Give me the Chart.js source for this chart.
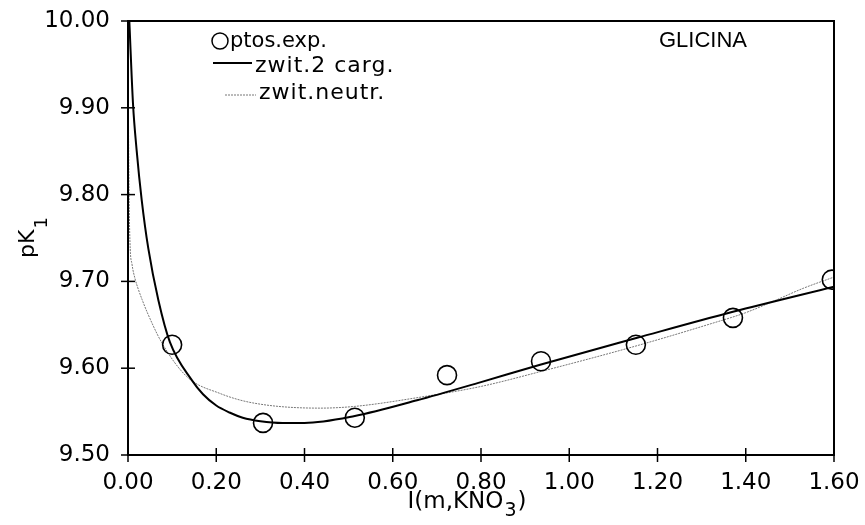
<!DOCTYPE html>
<html>
<head>
<meta charset="utf-8">
<script src="https://cdn.jsdelivr.net/npm/chart.js@4/dist/chart.umd.min.js"></script>
<style>
html,body{margin:0;padding:0;background:#fff;}
#wrap{width:865px;height:525px;}
</style>
</head>
<body>
<div id="wrap"><canvas id="c" width="865" height="525"></canvas></div>
<script>
// Experimental points
const expI  = [0.10, 0.306, 0.514, 0.723, 0.936, 1.151, 1.371, 1.595];
const expPK = [9.627, 9.537, 9.543, 9.592, 9.608, 9.627, 9.658, 9.702];

// zwit.2 carg. (solid curve)
const carg2I  = [0.003, 0.0113, 0.0196, 0.031, 0.046, 0.069, 0.095, 0.145, 0.17, 0.20, 0.23, 0.26, 0.30, 0.35, 0.40, 0.514, 0.655, 0.80, 0.934, 1.154, 1.371, 1.60];
const carg2PK = [10.00, 9.905, 9.851, 9.794, 9.738, 9.678, 9.630, 9.586, 9.570, 9.557, 9.549, 9.543, 9.539, 9.537, 9.537, 9.545, 9.563, 9.584, 9.604, 9.635, 9.665, 9.694];

// zwit.neutr. (thin dotted curve)
const neutrI  = [0.0005, 0.001, 0.002, 0.0045, 0.009, 0.016, 0.024, 0.032, 0.043, 0.077, 0.134, 0.208, 0.283, 0.435, 0.514, 0.655, 0.80, 0.934, 1.154, 1.326, 1.40, 1.462, 1.53, 1.60];
const neutrPK = [10.00, 9.90, 9.82, 9.745, 9.720, 9.703, 9.690, 9.679, 9.665, 9.629, 9.590, 9.571, 9.560, 9.554, 9.556, 9.566, 9.579, 9.596, 9.626, 9.652, 9.664, 9.677, 9.692, 9.705];

const xTickVals = [0.00, 0.20, 0.40, 0.60, 0.80, 1.00, 1.20, 1.40, 1.60];
const yTickVals = [9.50, 9.60, 9.70, 9.80, 9.90, 10.00];

const toPts = (xs, ys) => xs.map((x, i) => ({x: x, y: ys[i]}));

const FONT = "'DejaVu Sans', sans-serif";

const decor = {
  id: 'decor',
  afterDraw(chart) {
    const ctx = chart.ctx;
    const a = chart.chartArea;
    const xs = chart.scales.x, ys = chart.scales.y;
    ctx.save();
    ctx.strokeStyle = '#000';
    ctx.lineWidth = 2;
    ctx.strokeRect(a.left, a.top, a.right - a.left, a.bottom - a.top);
    ctx.lineWidth = 1.5;
    xTickVals.forEach(v => {
      const p = xs.getPixelForValue(v);
      ctx.beginPath(); ctx.moveTo(p, a.bottom - 7); ctx.lineTo(p, a.bottom + 7); ctx.stroke();
    });
    yTickVals.forEach(v => {
      const p = ys.getPixelForValue(v);
      ctx.beginPath(); ctx.moveTo(a.left - 7, p); ctx.lineTo(a.left + 7, p); ctx.stroke();
    });
    ctx.fillStyle = '#000';
    // x title with subscript
    ctx.textBaseline = 'alphabetic';
    ctx.textAlign = 'left';
    ctx.font = '23px ' + FONT;
    const t1 = 'I(m,KNO', t2 = '3', t3 = ')';
    const w1 = ctx.measureText(t1).width;
    ctx.font = '19px ' + FONT;
    const w2 = ctx.measureText(t2).width;
    ctx.font = '23px ' + FONT;
    const w3 = ctx.measureText(t3).width;
    let x0 = 466 - (w1 + w2 + w3) / 2;
    ctx.fillText(t1, x0, 508);
    ctx.font = '19px ' + FONT;
    ctx.fillText(t2, x0 + w1 + 1, 516);
    ctx.font = '23px ' + FONT;
    ctx.fillText(t3, x0 + w1 + w2 + 2, 508);
    // y title rotated with subscript
    ctx.save();
    ctx.translate(34, 238);
    ctx.rotate(-Math.PI / 2);
    ctx.font = '22px ' + FONT;
    const pw = ctx.measureText('pK').width;
    ctx.font = '18px ' + FONT;
    const sw = ctx.measureText('1').width;
    ctx.font = '22px ' + FONT;
    ctx.fillText('pK', -(pw + sw) / 2, 0);
    ctx.font = '18px ' + FONT;
    ctx.fillText('1', -(pw + sw) / 2 + pw + 1, 13);
    ctx.restore();
    // legend
    ctx.font = '21px ' + FONT;
    ctx.textBaseline = 'middle';
    ctx.lineWidth = 1.5;
    ctx.beginPath(); ctx.arc(220, 41, 8, 0, Math.PI * 2); ctx.stroke();
    ctx.fillText('ptos.exp.', 230, 42);
    ctx.lineWidth = 2;
    ctx.beginPath(); ctx.moveTo(213, 63); ctx.lineTo(252, 63); ctx.stroke();
    ctx.font = '22px ' + FONT;
    try { ctx.letterSpacing = '1px'; } catch (e) {}
    ctx.fillText('zwit.2 carg.', 255, 66);
    ctx.lineWidth = 1;
    ctx.strokeStyle = '#777';
    ctx.setLineDash([2, 1]);
    ctx.beginPath(); ctx.moveTo(225, 95); ctx.lineTo(256, 95); ctx.stroke();
    ctx.setLineDash([]);
    ctx.fillText('zwit.neutr.', 259, 93);
    try { ctx.letterSpacing = '0px'; } catch (e) {}
    ctx.font = "22px 'Liberation Sans', sans-serif";
    ctx.textAlign = 'center';
    ctx.fillText('GLICINA', 703, 41);
    ctx.restore();
  }
};

new Chart(document.getElementById('c'), {
  type: 'scatter',
  data: {
    datasets: [
      {
        label: 'ptos.exp.',
        data: toPts(expI, expPK),
        showLine: false,
        pointStyle: 'circle',
        pointRadius: 9.5,
        pointBorderWidth: 1.6,
        pointBorderColor: '#000',
        pointBackgroundColor: 'rgba(0,0,0,0)',
        order: 0
      },
      {
        label: 'zwit.2 carg.',
        data: toPts(carg2I, carg2PK),
        showLine: true,
        borderColor: '#000',
        borderWidth: 2,
        pointRadius: 0,
        cubicInterpolationMode: 'monotone',
        order: 1
      },
      {
        label: 'zwit.neutr.',
        data: toPts(neutrI, neutrPK),
        showLine: true,
        borderColor: '#777',
        borderWidth: 1,
        borderDash: [2, 1],
        pointRadius: 0,
        cubicInterpolationMode: 'monotone',
        order: 2
      }
    ]
  },
  options: {
    responsive: false,
    animation: false,
    devicePixelRatio: 1,
    layout: { padding: { top: 21, right: 31, left: 0, bottom: 0 } },
    plugins: { legend: { display: false }, tooltip: { enabled: false } },
    scales: {
      x: {
        type: 'linear', min: 0, max: 1.6,
        afterBuildTicks: s => { s.ticks = xTickVals.map(v => ({value: v})); },
        afterFit: s => { s.height = 70; s.paddingLeft = 0; s.paddingRight = 0; },
        grid: { display: false, drawOnChartArea: false },
        border: { display: false },
        ticks: {
          color: '#000', padding: 6, maxRotation: 0, autoSkip: false,
          font: { family: FONT, size: 23 },
          callback: v => Number(v).toFixed(2)
        }
      },
      y: {
        type: 'linear', min: 9.5, max: 10.0,
        afterBuildTicks: s => { s.ticks = yTickVals.map(v => ({value: v})); },
        afterFit: s => { s.width = 128; s.paddingTop = 0; s.paddingBottom = 0; },
        grid: { display: false, drawOnChartArea: false },
        border: { display: false },
        ticks: {
          color: '#000', padding: 10, autoSkip: false,
          font: { family: FONT, size: 23 },
          callback: v => Number(v).toFixed(2)
        }
      }
    }
  },
  plugins: [decor]
});
</script>
</body>
</html>
